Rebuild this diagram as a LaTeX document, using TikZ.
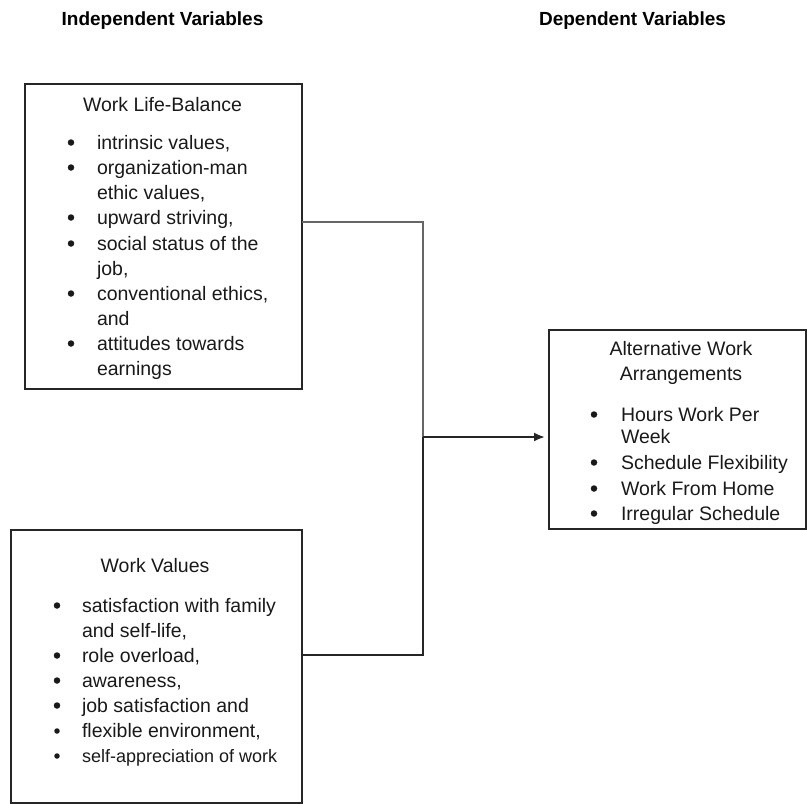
\documentclass[tikz,border=0pt]{standalone}
\usepackage{fontspec}
\setmainfont{Liberation Sans}
\usetikzlibrary{arrows.meta}
\tikzset{
  box/.style={draw=black!85, line width=2pt, rectangle, inner sep=0pt, outer sep=0pt},
  txt/.style={anchor=base west, inner sep=0pt, outer sep=0pt, text=black!90, font=\fontsize{19.5}{25}\selectfont},
  ctxt/.style={txt, anchor=base},
  bul/.style={circle, fill=black!90, inner sep=0pt, outer sep=0pt, minimum size=6.5pt},
  sbul/.style={bul, minimum size=5.5pt},
  head/.style={anchor=base, inner sep=0pt, text=black, font=\fontsize{19}{23}\selectfont\bfseries},
  conn/.style={line width=2pt, draw=black!85},
  connl/.style={line width=2pt, draw=black!60},
}
\begin{document}
\begin{tikzpicture}[x=1pt,y=-1pt]
\useasboundingbox (0,0) rectangle (807,804);
% headings
\node[head] (h1) at (162.5,25) {Independent Variables};
\node[head] (h2) at (632.5,25) {Dependent Variables};
% boxes
\node[box, minimum width=277pt, minimum height=305pt] (b1) at (163.5,236.5) {};
\node[box, minimum width=291pt, minimum height=273pt] (b2) at (156.5,666.5) {};
\node[box, minimum width=257pt, minimum height=199pt] (b3) at (677.5,429.5) {};
% box 1 text
\node[ctxt] (t1) at (162.5,111) {Work Life-Balance};
\foreach \yy/\tt [count=\i] in {149/{intrinsic values,},174/{organization-man},199/{ethic values,},224/{upward striving,},250/{social status of the},275/{job,},300/{conventional ethics,},325/{and},350/{attitudes towards},375/{earnings}}
  \node[txt] (a\i) at (97,\yy) {\tt};
\foreach \yy [count=\i] in {149,174,224,250,300,350}
  \node[bul] (ab\i) at (71,\yy-6.5) {};
% box 2 text
\node[ctxt] (t2) at (155,572) {Work Values};
\foreach \yy/\tt [count=\i] in {612/{satisfaction with family},637/{and self-life,},662/{role overload,},687/{awareness,},712/{job satisfaction and},737/{flexible environment,}}
  \node[txt] (c\i) at (82,\yy) {\tt};
\node[txt, font=\fontsize{18}{22}\selectfont] (c7) at (82,762) {self-appreciation of work};
\foreach \yy [count=\i] in {612,662,687,712}
  \node[bul] (cb\i) at (57,\yy-6.5) {};
\node[sbul] (cb5) at (57,737-6) {};
\node[sbul] (cb6) at (57,762-6) {};
% box 3 text
\node[ctxt] (t3a) at (681,355) {Alternative Work};
\node[ctxt] (t3b) at (681,380) {Arrangements};
\foreach \yy/\tt [count=\i] in {421/{Hours Work Per},443/{Week},469/{Schedule Flexibility},495/{Work From Home},520/{Irregular Schedule}}
  \node[txt] (d\i) at (621,\yy) {\tt};
\foreach \yy [count=\i] in {421,469,495,520}
  \node[bul] (db\i) at (594,\yy-6.5) {};
% connectors
\coordinate (j) at (423,437);
\draw[connl] ([yshift=14.5pt]b1.east) -| (j);
\draw[conn] ([yshift=11.5pt]b2.east) -| (j);
\draw[conn, -{Latex[length=11pt,width=9pt]}, shorten >=4pt] (j) -- (j -| b3.west);
\end{tikzpicture}
\end{document}
